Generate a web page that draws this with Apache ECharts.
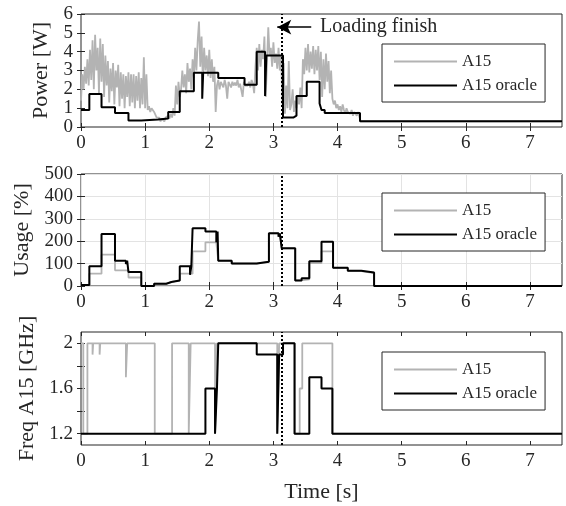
<!DOCTYPE html>
<html>
<head>
<meta charset="utf-8">
<script src="https://cdn.jsdelivr.net/npm/echarts@6/dist/echarts.min.js"></script>
<style>
html,body{margin:0;padding:0;background:#fff;}
#chart{width:566px;height:506px;}
</style>
</head>
<body>
<div id="chart"></div>
<script>
// ---- data ----
var xTicks = [0, 1, 2, 3, 4, 5, 6, 7];
var freqTicks = [1.2, 1.4, 1.6, 1.8, 2.0];
var freqLabels = [1.2, 1.6, 2.0];
var loadingFinish = 3.13;

// power, A15 measured (noisy), 0.02 s steps up to 4.38 s
var pwrA15 = [
  1.4, 2.8, 2.0, 3.2, 2.3, 3.6, 2.2, 4.1, 2.5, 4.6,
  2.0, 4.9, 3.0, 4.2, 1.8, 4.7, 2.4, 4.4, 1.6, 3.8,
  2.2, 3.5, 1.3, 3.1, 1.9, 3.4, 1.2, 3.0, 2.1, 3.3,
  1.1, 2.9, 1.5, 2.8, 1.0, 2.7, 1.6, 2.9, 1.1, 2.8,
  1.3, 2.8, 1.0, 2.7, 1.4, 2.9, 1.0, 2.6, 1.2, 3.7,
  1.0, 2.8, 0.9, 1.1, 0.8, 1.0, 0.9, 0.8, 0.9, 0.5,
  0.4, 0.5, 0.3, 0.45, 0.35, 0.3, 0.5, 0.4, 0.6, 0.45,
  0.7, 0.5, 1.0, 0.6, 2.2, 1.2, 2.4, 1.6, 2.0, 3.0,
  2.1, 2.8, 1.8, 3.4, 2.4, 3.1, 2.0, 3.6, 2.6, 4.2,
  3.0, 4.6, 5.6, 3.2, 4.8, 2.5, 4.2, 3.0, 3.8, 2.7,
  4.1, 2.6, 3.6, 2.4, 3.2, 0.8, 2.2, 2.5, 2.0, 2.4,
  2.3, 2.1, 2.5, 2.2, 1.5, 2.4, 2.3, 2.1, 2.4, 2.2,
  2.35, 2.2, 2.5, 2.1, 2.3, 2.2, 1.6, 2.4, 2.2, 2.3,
  2.2, 2.4, 2.1, 2.5, 2.3, 1.8, 3.2, 4.2, 3.0, 4.4,
  3.2, 4.1, 3.6, 4.8, 1.6, 3.4, 5.3, 3.8, 4.2, 3.2,
  4.5, 3.4, 3.9, 3.1, 4.2, 3.0, 3.8, 1.2, 3.4, 0.7,
  2.2, 1.0, 3.5, 0.9, 1.2, 2.0, 0.8, 1.4, 1.0, 1.6,
  1.2, 2.1, 1.0, 3.6, 2.8, 4.2, 3.0, 4.4, 2.9, 4.0,
  3.1, 4.3, 2.8, 4.1, 3.0, 4.3, 2.5, 4.0, 1.6, 3.6,
  2.0, 3.9, 2.4, 3.5, 1.8, 3.0, 1.5, 1.2, 1.4, 1.0,
  1.2, 0.9, 1.1, 0.8, 1.2, 0.9, 0.7, 1.0, 0.8, 0.9,
  0.7, 0.9, 0.6, 0.8, 0.9, 0.6, 0.8, 0.7, 0.3, 0.3
];
var pwrTailT = [4.4, 7.5];
var pwrTail = [0.3, 0.3];

// power, oracle (step changes)
var pwrOrT = [0, 0.13, 0.32, 0.53, 0.74, 0.94, 1.2, 1.36, 1.54, 1.76, 1.89, 1.905, 2.14, 2.55, 2.74, 2.87, 2.89, 3.15, 3.31, 3.36, 3.52, 3.72, 3.75, 3.8, 4.35, 7.5];
var pwrOr  = [0.9, 1.75, 1.05, 0.75, 0.35, 0.4, 0.45, 0.8, 1.9, 2.88, 1.5, 2.88, 2.6, 2.25, 4.0, 1.65, 3.8, 0.5, 0.6, 1.65, 2.4, 1.25, 0.9, 0.75, 0.3, 0.3];

// usage [%] (step changes, shared times)
var useT  = [0, 0.13, 0.32, 0.53, 0.70, 0.72, 0.74, 0.94, 1.14, 1.33, 1.41, 1.54, 1.70, 1.72, 1.74, 1.94, 2.11, 2.13, 2.14, 2.35, 2.74, 2.93, 3.08, 3.10, 3.13, 3.34, 3.44, 3.56, 3.75, 3.93, 4.16, 4.37, 4.57, 7.5];
var useOr = [5, 88, 232, 113, 98, 113, 62, 0, 10, 18, 25, 88, 50, 88, 258, 243, 195, 243, 113, 100, 108, 235, 220, 235, 168, 25, 35, 110, 198, 82, 68, 60, 0, 0];
var useA15 = [5, 55, 140, 70, 70, 70, 38, 0, 10, 18, 25, 55, 50, 55, 155, 195, 195, 195, 113, 100, 108, 235, 220, 235, 168, 25, 30, 102, 155, 80, 66, 58, 0, 0];

// frequency [GHz]
var frqOrT = [0, 1.94, 2.09, 2.12, 2.14, 2.74, 3.06, 3.09, 3.15, 3.33, 3.56, 3.75, 3.92, 7.5];
var frqOr  = [1.2, 1.6, 1.2, 1.6, 2.0, 1.9, 1.2, 1.9, 2.0, 1.2, 1.7, 1.6, 1.2, 1.2];
var frqA15T = [0, 0.036, 0.1, 0.18, 0.19, 0.29, 0.30, 0.70, 0.72, 1.15, 1.42, 1.68, 1.71, 2.09, 2.12, 3.06, 3.09, 3.33, 3.41, 3.45, 3.92, 7.5];
var frqA15  = [2.0, 1.2, 2.0, 1.9, 2.0, 1.9, 2.0, 1.7, 2.0, 1.2, 2.0, 1.2, 2.0, 1.2, 2.0, 1.2, 2.0, 1.2, 1.6, 2.0, 1.2, 1.2];

// ---- helpers ----
var FONT = '"Liberation Serif", "Times New Roman", serif';
var INK = '#262626';
var GRAY = '#b3b3b3';

function zip(t, v) {
  var out = [];
  for (var i = 0; i < v.length; i++) out.push([t[i], v[i]]);
  return out;
}

var pwrA15Data = pwrA15.map(function (v, i) { return [+(i * 0.02).toFixed(2), v]; })
  .concat(zip(pwrTailT, pwrTail));

var grids = [
  {top: 14, height: 113},
  {top: 174, height: 112},
  {top: 332, height: 113}
];
var legendTops = [44, 193, 352];

var yCfg = [
  {name: 'Power [W]', min: 0, max: 6, interval: 1, gap: 24, split: false},
  {name: 'Usage [%]', min: 0, max: 500, interval: 100, gap: 40, split: true},
  {name: 'Freq A15 [GHz]', min: 1.1, max: 2.1, gap: 37, split: false}
];

var xAxes = [], yAxes = [];
grids.forEach(function (g, i) {
  g.left = 81; g.right = 4;
  g.show = true; g.borderColor = INK; g.borderWidth = 1;
  xAxes.push({
    type: 'value', gridIndex: i, min: 0, max: 7.5, interval: 1,
    name: i === 2 ? 'Time [s]' : '', nameLocation: 'middle', nameGap: 36,
    nameTextStyle: {fontFamily: FONT, fontSize: 22, color: INK},
    axisLine: {show: false},
    axisTick: {inside: true, length: 4, lineStyle: {color: INK}, customValues: xTicks},
    axisLabel: {fontFamily: FONT, fontSize: 19, color: INK, margin: 7, customValues: xTicks},
    splitLine: {show: yCfg[i].split, lineStyle: {color: '#e3e3e3', width: 1}}
  });
});
grids.forEach(function (g, i) {
  xAxes.push({
    type: 'value', gridIndex: i, position: 'top', min: 0, max: 7.5, interval: 1,
    axisLine: {show: false}, axisLabel: {show: false}, splitLine: {show: false},
    axisTick: {inside: true, length: 4, lineStyle: {color: INK}, customValues: xTicks}
  });
});
yCfg.forEach(function (c, i) {
  var y = {
    type: 'value', gridIndex: i, min: c.min, max: c.max,
    name: c.name, nameLocation: 'middle', nameGap: c.gap,
    nameTextStyle: {fontFamily: FONT, fontSize: 22, color: INK},
    axisLine: {show: false},
    axisTick: {inside: true, length: 4, lineStyle: {color: INK}},
    axisLabel: {fontFamily: FONT, fontSize: 19, color: INK, margin: 8},
    splitLine: {show: c.split, lineStyle: {color: '#e3e3e3', width: 1}}
  };
  if (c.interval) y.interval = c.interval;
  else {
    y.axisTick.customValues = freqTicks;
    y.axisLabel.customValues = freqLabels;
    y.axisLabel.formatter = function (v) { return String(+v.toFixed(1)); };
  }
  yAxes.push(y);
});
yCfg.forEach(function (c, i) {
  var y = {
    type: 'value', gridIndex: i, position: 'right', min: c.min, max: c.max,
    axisLine: {show: false}, axisLabel: {show: false}, splitLine: {show: false},
    axisTick: {inside: true, length: 4, lineStyle: {color: INK}}
  };
  if (c.interval) y.interval = c.interval;
  else y.axisTick.customValues = freqTicks;
  yAxes.push(y);
});

var dotted = {
  silent: true, symbol: 'none', label: {show: false},
  lineStyle: {type: 'dotted', color: '#000', width: 2},
  data: [{xAxis: loadingFinish}]
};

function grayLine(i, data, step) {
  return {
    name: 'A15', type: 'line', xAxisIndex: i, yAxisIndex: i, data: data,
    step: step ? 'end' : false, symbol: 'none', animation: false,
    lineStyle: {color: GRAY, width: 1.8}, itemStyle: {color: GRAY}
  };
}
function blackLine(i, data) {
  return {
    name: 'A15 oracle', type: 'line', xAxisIndex: i, yAxisIndex: i, data: data,
    step: 'end', symbol: 'none', animation: false, z: 3,
    lineStyle: {color: '#000', width: 2}, itemStyle: {color: '#000'},
    markLine: dotted
  };
}

var pwrOracle = blackLine(0, zip(pwrOrT, pwrOr));
pwrOracle.markLine = {
  silent: true, label: {show: false}, symbol: 'none',
  data: [
    {xAxis: loadingFinish, lineStyle: {type: 'dotted', color: '#000', width: 2}},
    [
      {coord: [3.59, 5.3], symbol: 'none', lineStyle: {type: 'solid', color: '#000', width: 1.5}},
      {coord: [3.06, 5.3], symbol: 'arrow', symbolSize: [11, 14]}
    ]
  ]
};
pwrOracle.markPoint = {
  silent: true,
  data: [{
    coord: [3.72, 5.3], symbol: 'circle', symbolSize: 1,
    itemStyle: {color: 'rgba(0,0,0,0)'},
    label: {show: true, position: 'right', distance: 0, formatter: 'Loading finish',
      fontFamily: FONT, fontSize: 20, color: INK}
  }]
};

var option = {
  backgroundColor: '#fff',
  animation: false,
  textStyle: {fontFamily: FONT, color: INK},
  grid: grids,
  xAxis: xAxes,
  yAxis: yAxes,
  legend: legendTops.map(function (t) {
    return {
      data: ['A15', 'A15 oracle'], orient: 'vertical', left: 382, top: t,
      itemWidth: 63, itemHeight: 14, itemGap: 7, padding: [9, 8, 8, 11],
      backgroundColor: '#fff', borderColor: INK, borderWidth: 1,
      selectedMode: false,
      itemStyle: {opacity: 0},
      textStyle: {fontFamily: FONT, fontSize: 17, color: INK}
    };
  }),
  series: [
    grayLine(0, pwrA15Data, false),
    pwrOracle,
    grayLine(1, zip(useT, useA15), true),
    blackLine(1, zip(useT, useOr)),
    grayLine(2, zip(frqA15T, frqA15), true),
    blackLine(2, zip(frqOrT, frqOr))
  ]
};

var chart = echarts.init(document.getElementById('chart'));
chart.setOption(option);
</script>
</body>
</html>
